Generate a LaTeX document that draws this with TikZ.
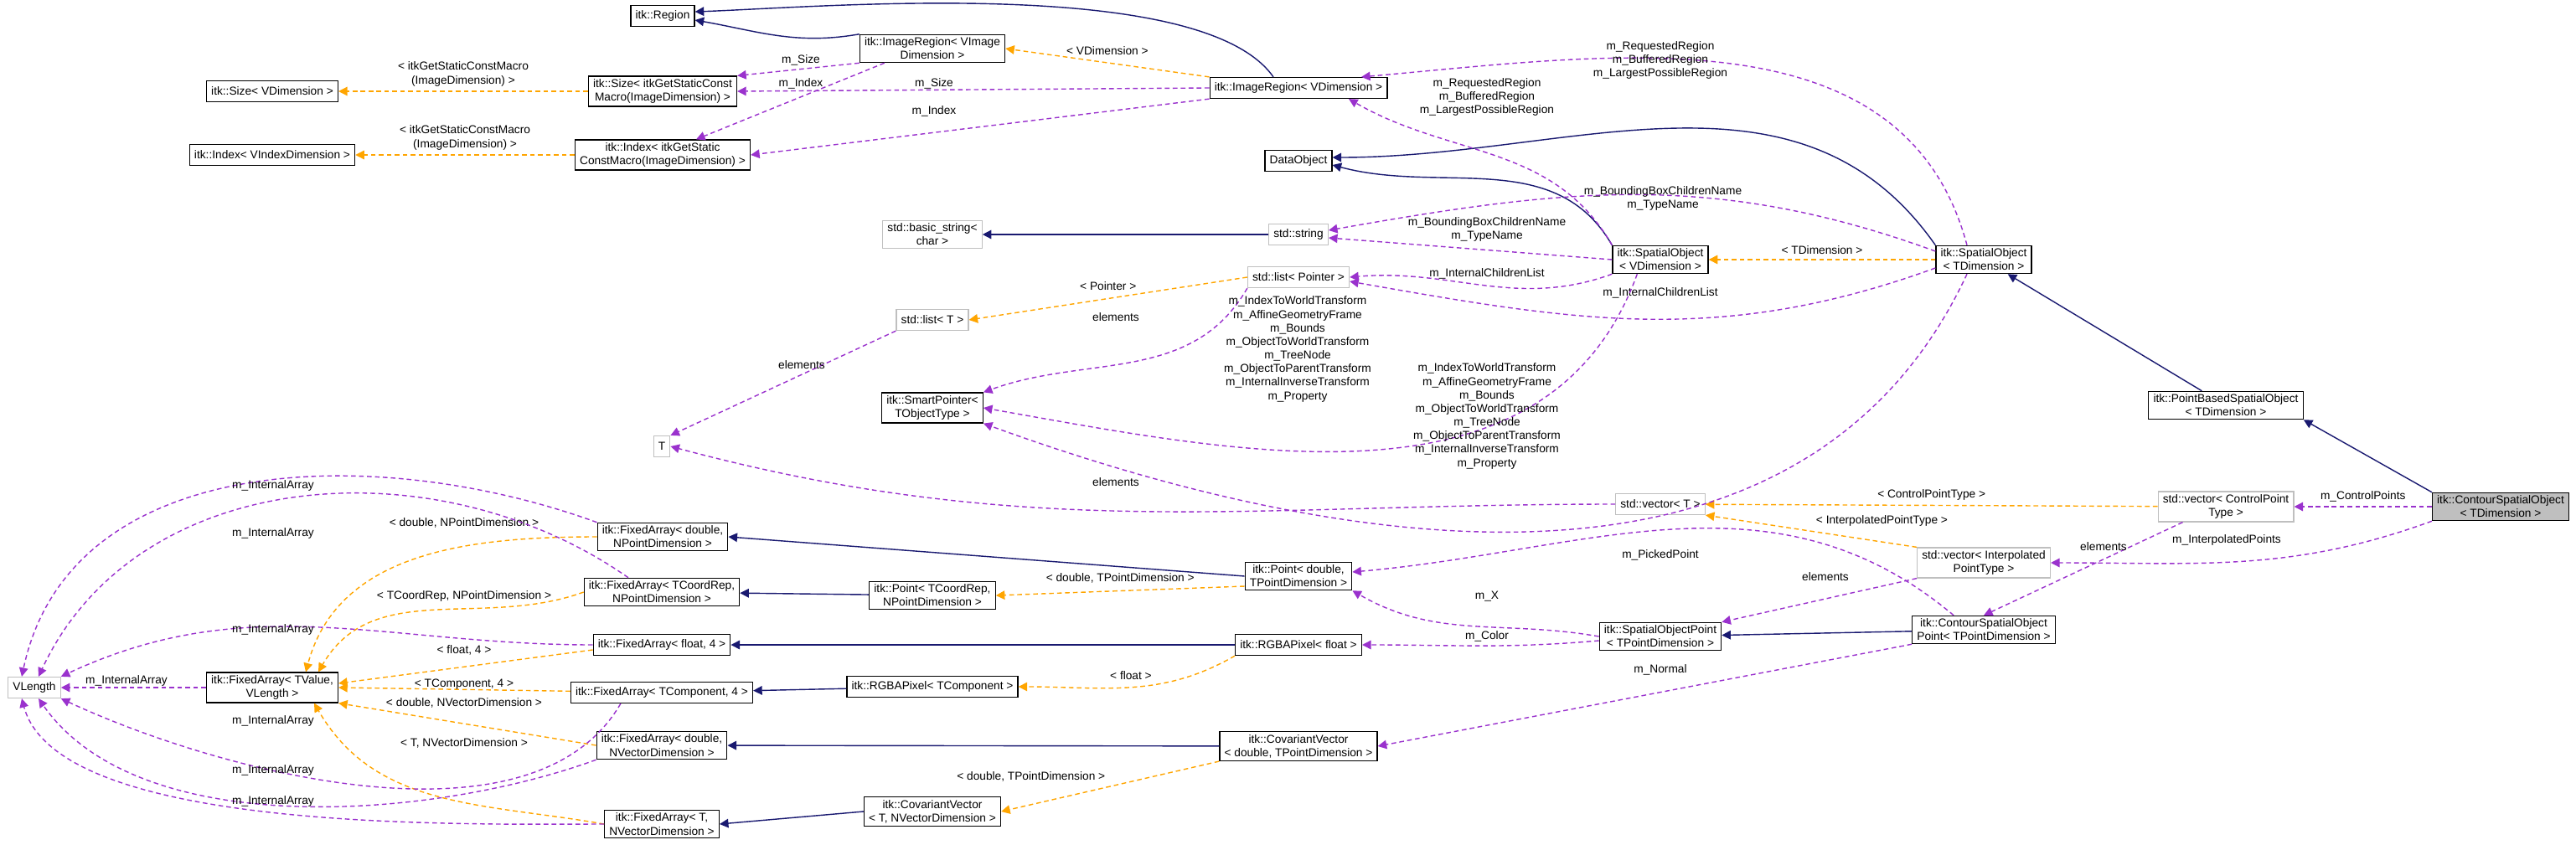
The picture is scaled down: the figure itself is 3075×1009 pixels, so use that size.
\documentclass[tikz,border=0pt]{standalone}
\usepackage{fontspec}
\setmainfont{Liberation Sans}
\usetikzlibrary{arrows.meta}
\definecolor{DoxNavy}{HTML}{191970}
\definecolor{DoxOrange}{HTML}{FFA500}
\definecolor{DoxPurple}{HTML}{9A32CD}
\definecolor{DoxGray}{HTML}{BFBFBF}
\newcommand{\dxfont}{\fontsize{3.9}{4.6}\selectfont}
\begin{document}
\begin{tikzpicture}[x=0.01cm, y=-0.01cm,
  cls/.style={draw=black, fill=white, font=\dxfont, align=center, inner xsep=1.6pt, inner ysep=1pt, minimum height=0.25cm, line width=0.35pt},
  ext/.style={cls, draw=DoxGray},
  lbl/.style={font=\dxfont, text=black, align=center, inner sep=0.5pt},
  inh/.style={DoxNavy, line width=0.4pt, -{Triangle[length=3pt,width=3pt]}},
  tpl/.style={DoxOrange, line width=0.4pt, dash pattern=on 1.6pt off 1.1pt, -{Triangle[length=3pt,width=3pt]}},
  use/.style={DoxPurple, line width=0.4pt, dash pattern=on 1.6pt off 1.1pt, -{Triangle[length=3pt,width=3pt]}}]
\useasboundingbox (0,0) rectangle (3075,1009);

% classes
\node[cls] (region) at (791,19) {itk::Region};
\node[cls] (sizeV) at (325,109) {itk::Size< VDimension >};
\node[cls] (sizeM) at (791,109) {itk::Size< itkGetStaticConst\\Macro(ImageDimension) >};
\node[cls] (indexV) at (325,185) {itk::Index< VIndexDimension >};
\node[cls] (indexM) at (791,185) {itk::Index< itkGetStatic\\ConstMacro(ImageDimension) >};
\node[cls] (regionVI) at (1113,58) {itk::ImageRegion< VImage\\Dimension >};
\node[cls] (regionV) at (1550,105) {itk::ImageRegion< VDimension >};
\node[cls] (dataObj) at (1550,192) {DataObject};
\node[ext] (basicStr) at (1113,280) {std::basic\_string<\\char >};
\node[ext] (stdStr) at (1550,280) {std::string};
\node[cls] (spatialV) at (1982,310) {itk::SpatialObject\\< VDimension >};
\node[cls] (spatialT) at (2368,310) {itk::SpatialObject\\< TDimension >};
\node[ext] (listPtr) at (1550,331) {std::list< Pointer >};
\node[ext] (listT) at (1113,382) {std::list< T >};
\node[cls] (smartPtr) at (1113,487) {itk::SmartPointer<\\TObjectType >};
\node[ext] (typeT) at (790,533) {T};
\node[cls] (pointBased) at (2657,484) {itk::PointBasedSpatialObject\\< TDimension >};
\node[ext] (vecT) at (1982,602) {std::vector< T >};
\node[ext] (vecCtrl) at (2657,605) {std::vector< ControlPoint\\Type >};
\node[cls, fill=DoxGray] (contour) at (2985,605) {itk::ContourSpatialObject\\< TDimension >};
\node[ext] (vecInterp) at (2368,672) {std::vector< Interpolated\\PointType >};
\node[cls] (contourPt) at (2368,752) {itk::ContourSpatialObject\\Point< TPointDimension >};
\node[cls] (spatialPt) at (1982,760) {itk::SpatialObjectPoint\\< TPointDimension >};
\node[cls] (pointD) at (1550,688) {itk::Point< double,\\TPointDimension >};
\node[cls] (pointC) at (1113,711) {itk::Point< TCoordRep,\\NPointDimension >};
\node[cls] (rgbaF) at (1550,770) {itk::RGBAPixel< float >};
\node[cls] (rgbaC) at (1113,820) {itk::RGBAPixel< TComponent >};
\node[cls] (covD) at (1550,891) {itk::CovariantVector\\< double, TPointDimension >};
\node[cls] (covT) at (1113,969) {itk::CovariantVector\\< T, NVectorDimension >};
\node[ext] (vlength) at (41,821) {VLength};
\node[cls] (faValue) at (325,821) {itk::FixedArray< TValue,\\VLength >};
\node[cls] (faDP) at (791,641) {itk::FixedArray< double,\\NPointDimension >};
\node[cls] (faCP) at (790,707) {itk::FixedArray< TCoordRep,\\NPointDimension >};
\node[cls] (faF4) at (790,770) {itk::FixedArray< float, 4 >};
\node[cls] (faC4) at (790,827) {itk::FixedArray< TComponent, 4 >};
\node[cls] (faDV) at (790,890) {itk::FixedArray< double,\\NVectorDimension >};
\node[cls] (faTV) at (790,984) {itk::FixedArray< T,\\NVectorDimension >};

% inheritance
\draw[inh] (regionVI.north west) to[out=190,in=-10] ([yshift=-0.05cm]region.east);
\draw[inh] ([xshift=-0.3cm]regionV.north) to[out=125,in=2,looseness=0.55] ([yshift=0.05cm]region.east);
\draw[inh] (spatialV.north west) to[out=120,in=-15] ([yshift=-0.05cm]dataObj.east);
\draw[inh] (spatialT.north west) to[out=125,in=0] ([yshift=0.04cm]dataObj.east);
\draw[inh] (stdStr) -- (basicStr);
\draw[inh] (pointBased) -- (spatialT);
\draw[inh] (contour.north west) -- (pointBased.south east);
\draw[inh] (contourPt) -- (spatialPt);
\draw[inh] (pointD.west) -- (faDP.east);
\draw[inh] (pointC) -- (faCP);
\draw[inh] (rgbaF) -- (faF4);
\draw[inh] (rgbaC) -- (faC4);
\draw[inh] (covD) -- (faDV);
\draw[inh] (covT.west) -- (faTV.east);

% template instances
\draw[tpl] (sizeM) -- node[lbl, above=1pt] {< itkGetStaticConstMacro\\(ImageDimension) >} (sizeV);
\draw[tpl] (indexM) -- node[lbl, above=1pt] {< itkGetStaticConstMacro\\(ImageDimension) >} (indexV);
\draw[tpl] (regionV.north west) -- node[lbl, above=2pt] {< VDimension >} (regionVI.east);
\draw[tpl] (spatialT) -- node[lbl, above=1pt] {< TDimension >} (spatialV);
\draw[tpl] (listPtr.west) -- node[lbl, above=2pt] {< Pointer >} (listT.east);
\draw[tpl] (vecCtrl) -- node[lbl, above=1pt] {< ControlPointType >} (vecT);
\draw[tpl] (vecInterp.north west) -- node[lbl, above right=1pt] {< InterpolatedPointType >} (vecT.south east);
\draw[tpl] ([yshift=-0.12cm]pointD.west) -- node[lbl, above=2pt] {< double, TPointDimension >} (pointC.east);
\draw[tpl] (rgbaF.south west) to[out=-150,in=0] node[lbl, above=2pt] {< float >} (rgbaC.east);
\draw[tpl] (covD.south west) -- node[lbl, above left=1pt] {< double, TPointDimension >} (covT.east);
\draw[tpl] (faDP.west) to[out=180,in=75] ([xshift=0.4cm]faValue.north);
\draw[tpl] (faCP.west) to[out=200,in=60] ([xshift=0.55cm]faValue.north);
\draw[tpl] ([yshift=-0.06cm]faF4.west) -- ([yshift=0.05cm]faValue.east);
\draw[tpl] (faC4) -- (faValue.east);
\draw[tpl] (faDV.west) -- (faValue.south east);
\draw[tpl] (faTV.west) to[out=170,in=-60] ([xshift=0.5cm]faValue.south);
\node[lbl] (lDP) at (554,624) {< double, NPointDimension >};
\node[lbl] (lCP) at (554,712) {< TCoordRep, NPointDimension >};
\node[lbl] (lF4) at (554,776) {< float, 4 >};
\node[lbl] (lC4) at (554,817) {< TComponent, 4 >};
\node[lbl] (lDV) at (554,839) {< double, NVectorDimension >};
\node[lbl] (lTV) at (554,887) {< T, NVectorDimension >};

% members
\draw[use] (regionVI.south west) -- (sizeM.north east);
\draw[use] ([xshift=0.3cm]regionVI.south west) -- ([xshift=0.4cm]indexM.north);
\draw[use] (regionV.west) -- (sizeM.east);
\draw[use] (regionV.south west) -- (indexM.east);
\node[lbl] (lSize1) at (956,72) {m\_Size};
\node[lbl] (lSize2) at (1115,100) {m\_Size};
\node[lbl] (lIndex1) at (956,100) {m\_Index};
\node[lbl] (lIndex2) at (1115,133) {m\_Index};
\draw[use] (spatialV.north west) to[out=120,in=-30] ([xshift=0.6cm]regionV.south);
\draw[use] ([xshift=-0.2cm]spatialT.north) to[out=105,in=5] ([xshift=0.75cm]regionV.north);
\node[lbl] (lReq1) at (1775,116) {m\_RequestedRegion\\m\_BufferedRegion\\m\_LargestPossibleRegion};
\node[lbl] (lReq2) at (1982,72) {m\_RequestedRegion\\m\_BufferedRegion\\m\_LargestPossibleRegion};
\draw[use] (spatialV.west) -- ([yshift=-0.04cm]stdStr.east);
\draw[use] ([yshift=0.1cm]spatialT.west) to[out=160,in=10] ([yshift=0.05cm]stdStr.east);
\node[lbl] (lName1) at (1775,274) {m\_BoundingBoxChildrenName\\m\_TypeName};
\node[lbl] (lName2) at (1985,237) {m\_BoundingBoxChildrenName\\m\_TypeName};
\draw[use] (spatialV.south west) to[out=200,in=5] (listPtr.east);
\draw[use] ([yshift=-0.1cm]spatialT.west) to[out=200,in=-10] ([yshift=-0.05cm]listPtr.east);
\node[lbl] (lList1) at (1775,327) {m\_InternalChildrenList};
\node[lbl] (lList2) at (1982,350) {m\_InternalChildrenList};
\draw[use] (listPtr.south west) to[out=-120,in=20] (smartPtr.north east);
\node[lbl] (lElem2) at (1332,379) {elements};
\draw[use] ([xshift=0.3cm]spatialV.south west) to[out=-110,in=-10] (smartPtr.east);
\draw[use] ([xshift=-0.2cm]spatialT.south) to[out=-115,in=-20] (smartPtr.south east);
\node[lbl] (lXf1) at (1549,417) {m\_IndexToWorldTransform\\m\_AffineGeometryFrame\\m\_Bounds\\m\_ObjectToWorldTransform\\m\_TreeNode\\m\_ObjectToParentTransform\\m\_InternalInverseTransform\\m\_Property};
\node[lbl] (lXf2) at (1775,497) {m\_IndexToWorldTransform\\m\_AffineGeometryFrame\\m\_Bounds\\m\_ObjectToWorldTransform\\m\_TreeNode\\m\_ObjectToParentTransform\\m\_InternalInverseTransform\\m\_Property};
\draw[use] (listT.south west) -- (typeT.north east);
\node[lbl] (lElem1) at (957,436) {elements};
\draw[use] (vecT.west) to[out=180,in=-15] (typeT.east);
\node[lbl] (lElem4) at (1332,576) {elements};
\draw[use] (contour.west) -- node[lbl, above=1pt] {m\_ControlPoints} (vecCtrl.east);
\draw[use] (contour.south west) to[out=200,in=0] (vecInterp.east);
\node[lbl] (lInterp) at (2658,645) {m\_InterpolatedPoints};
\draw[use] ([xshift=0.3cm]vecCtrl.south west) -- (contourPt.north);
\node[lbl] (lElem3) at (2511,653) {elements};
\draw[use] (vecInterp.south west) -- (spatialPt.north east);
\node[lbl] (lElem5) at (2179,689) {elements};
\draw[use] (spatialPt.west) to[out=170,in=-30] (pointD.south east);
\node[lbl] (lX) at (1775,712) {m\_X};
\draw[use] ([xshift=0.5cm]contourPt.north west) to[out=140,in=5] ([yshift=0.05cm]pointD.east);
\node[lbl] (lPicked) at (1982,663) {m\_PickedPoint};
\draw[use] ([yshift=-0.05cm]spatialPt.west) to[out=185,in=0] (rgbaF.east);
\node[lbl] (lColor) at (1775,760) {m\_Color};
\draw[use] (contourPt.south west) -- (covD.east);
\node[lbl] (lNormal) at (1982,800) {m\_Normal};
\draw[use] (faDP.north west) to[out=160,in=78] ([xshift=-0.15cm]vlength.north);
\draw[use] ([xshift=-0.4cm]faCP.north) to[out=145,in=65] ([xshift=0.05cm]vlength.north);
\draw[use] (faF4.west) to[out=180,in=25] (vlength.north east);
\draw[use] (faValue) -- (vlength);
\draw[use] ([xshift=0.6cm]faC4.south west) to[out=-120,in=-25,looseness=0.8] (vlength.south east);
\draw[use] (faDV.south west) to[out=200,in=-55,looseness=0.8] ([xshift=0.05cm]vlength.south);
\draw[use] (faTV.west) to[out=180,in=-75,looseness=0.6] ([xshift=-0.15cm]vlength.south);
\node[lbl] (lA1) at (326,580) {m\_InternalArray};
\node[lbl] (lA2) at (326,637) {m\_InternalArray};
\node[lbl] (lA3) at (326,752) {m\_InternalArray};
\node[lbl] (lA4) at (151,813) {m\_InternalArray};
\node[lbl] (lA5) at (326,861) {m\_InternalArray};
\node[lbl] (lA6) at (326,920) {m\_InternalArray};
\node[lbl] (lA7) at (326,957) {m\_InternalArray};
\end{tikzpicture}
\end{document}
